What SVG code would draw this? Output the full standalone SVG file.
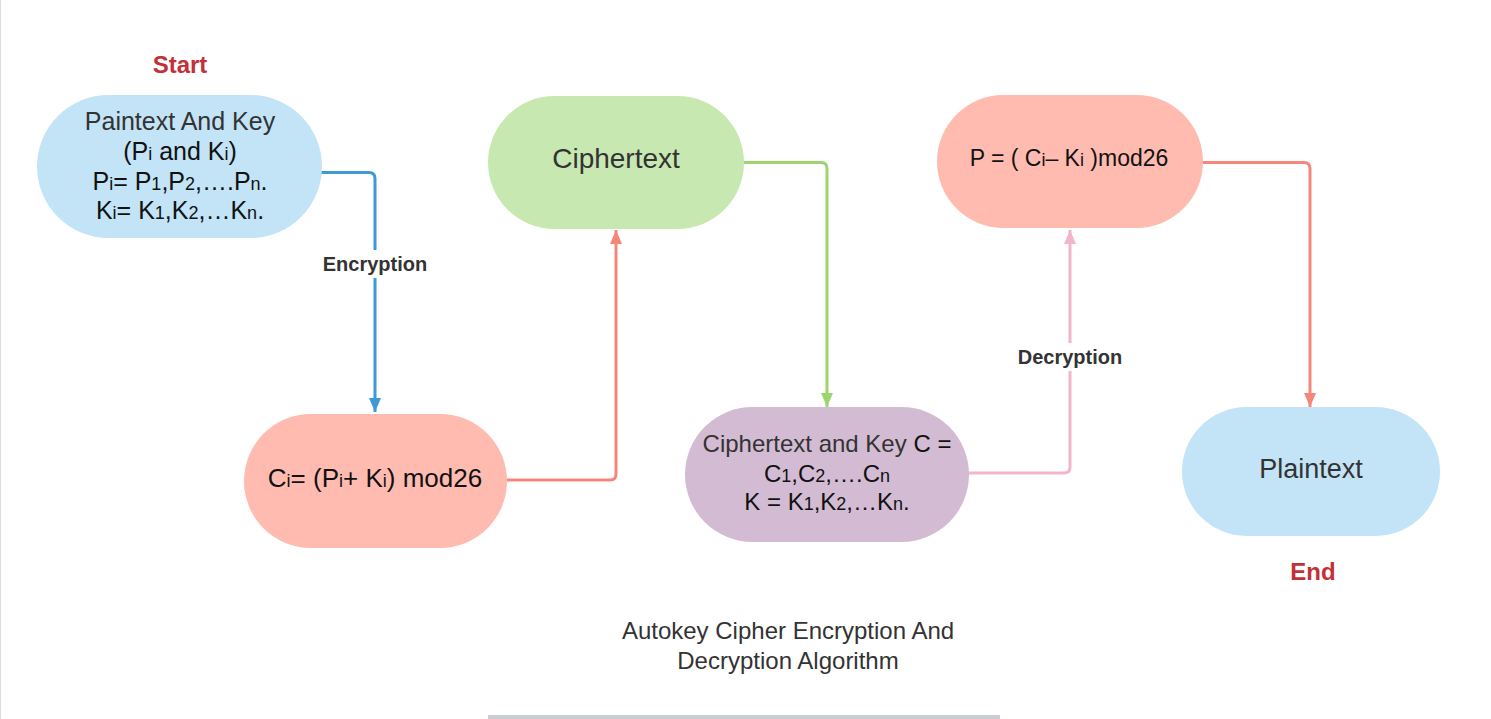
<svg xmlns="http://www.w3.org/2000/svg" width="1491" height="719" viewBox="0 0 1491 719">
<defs>
<style>
text{font-family:"Liberation Sans",Arial,sans-serif;text-anchor:middle}
.t{font-size:24px;fill:#333}
.f{font-size:24px;fill:#111}
.s{font-size:18px}
.lab{font-size:20px;font-weight:bold;fill:#333}
.red{font-size:24px;font-weight:bold;fill:#c23038}
.ln{fill:none;stroke-width:3;stroke-linejoin:round}
</style>
<marker id="aBlue" viewBox="0 0 14 12" refX="14" refY="6" markerWidth="14" markerHeight="12" markerUnits="userSpaceOnUse" orient="auto"><path d="M0,0 L14,6 L0,12 Z" fill="#3d9ad6"/></marker>
<marker id="aSal" viewBox="0 0 14 12" refX="14" refY="6" markerWidth="14" markerHeight="12" markerUnits="userSpaceOnUse" orient="auto"><path d="M0,0 L14,6 L0,12 Z" fill="#f5877a"/></marker>
<marker id="aGreen" viewBox="0 0 14 12" refX="14" refY="6" markerWidth="14" markerHeight="12" markerUnits="userSpaceOnUse" orient="auto"><path d="M0,0 L14,6 L0,12 Z" fill="#9dd46e"/></marker>
<marker id="aPink" viewBox="0 0 14 12" refX="14" refY="6" markerWidth="14" markerHeight="12" markerUnits="userSpaceOnUse" orient="auto"><path d="M0,0 L14,6 L0,12 Z" fill="#f2b5cc"/></marker>
</defs>
<rect x="0" y="0" width="1491" height="719" fill="#fff"/>
<line x1="0.5" y1="0" x2="0.5" y2="719" stroke="#ddd" stroke-width="1"/>
<rect x="488" y="715" width="512" height="4" fill="#c9cdd2"/>

<g id="connectors">
<path class="ln" stroke="#3d9ad6" d="M321,172.5 H369 Q375,172.5 375,178.5 V412" marker-end="url(#aBlue)"/>
<rect x="318" y="250" width="114" height="28" fill="#fff"/>
<text class="lab" x="375" y="271">Encryption</text>
<path class="ln" stroke="#f5877a" d="M507,480 H610 Q616,480 616,474 V230" marker-end="url(#aSal)"/>
<path class="ln" stroke="#9dd46e" d="M744,162.5 H821 Q827,162.5 827,168.5 V407" marker-end="url(#aGreen)"/>
<path class="ln" stroke="#f2b5cc" d="M969,473 H1064 Q1070,473 1070,467 V230" marker-end="url(#aPink)"/>
<rect x="1012" y="343" width="116" height="28" fill="#fff"/>
<text class="lab" x="1070" y="364">Decryption</text>
<path class="ln" stroke="#f5877a" d="M1203,162.5 H1304 Q1310,162.5 1310,168.5 V407" marker-end="url(#aSal)"/>
</g>

<g id="start"><text class="red" x="180" y="73">Start</text></g>
<g id="end"><text class="red" x="1313" y="580">End</text></g>

<g id="n1">
<rect x="37" y="95" width="285" height="143" rx="71.5" fill="#c2e4f6"/>
<text class="t" x="180" y="130" style="font-size:25px">Paintext And Key</text>
<text class="f" x="180" y="160" style="font-size:25px">(P<tspan class="s">i</tspan> and K<tspan class="s">i</tspan>)</text>
<text class="f" x="180" y="190" style="font-size:25px">P<tspan class="s">i</tspan>= P<tspan class="s">1</tspan>,P<tspan class="s">2</tspan>,….P<tspan class="s">n</tspan>.</text>
<text class="f" x="180" y="219" style="font-size:25px">K<tspan class="s">i</tspan>= K<tspan class="s">1</tspan>,K<tspan class="s">2</tspan>,…K<tspan class="s">n</tspan>.</text>
</g>

<g id="n2">
<rect x="244" y="414" width="263" height="134" rx="67" fill="#ffbbb0"/>
<text class="f" x="375" y="487" style="font-size:26px">C<tspan class="s">i</tspan>= (P<tspan class="s">i</tspan>+ K<tspan class="s">i</tspan>) mod26</text>
</g>

<g id="n3">
<rect x="488" y="96" width="256" height="133" rx="66.5" fill="#c8e8b2"/>
<text class="t" x="616" y="168" style="font-size:28px">Ciphertext</text>
</g>

<g id="n4">
<rect x="685" y="407" width="284" height="135" rx="67.5" fill="#d3bcd3"/>
<text class="t" x="827" y="452">Ciphertext and Key <tspan fill="#111">C =</tspan></text>
<text class="f" x="827" y="482">C<tspan class="s">1</tspan>,C<tspan class="s">2</tspan>,….C<tspan class="s">n</tspan></text>
<text class="f" x="827" y="510">K = K<tspan class="s">1</tspan>,K<tspan class="s">2</tspan>,…K<tspan class="s">n</tspan>.</text>
</g>

<g id="n5">
<rect x="937" y="95" width="266" height="133" rx="66.5" fill="#ffbbb0"/>
<text class="f" x="1069" y="166" style="font-size:23px">P = ( C<tspan class="s">i</tspan>– K<tspan class="s">i</tspan> )mod26</text>
</g>

<g id="n6">
<rect x="1182" y="407" width="258" height="129" rx="64.5" fill="#c2e4f6"/>
<text class="t" x="1311" y="478" style="font-size:27px">Plaintext</text>
</g>

<g id="title">
<text class="t" x="788" y="639">Autokey Cipher Encryption And</text>
<text class="t" x="788" y="669">Decryption Algorithm</text>
</g>
</svg>
